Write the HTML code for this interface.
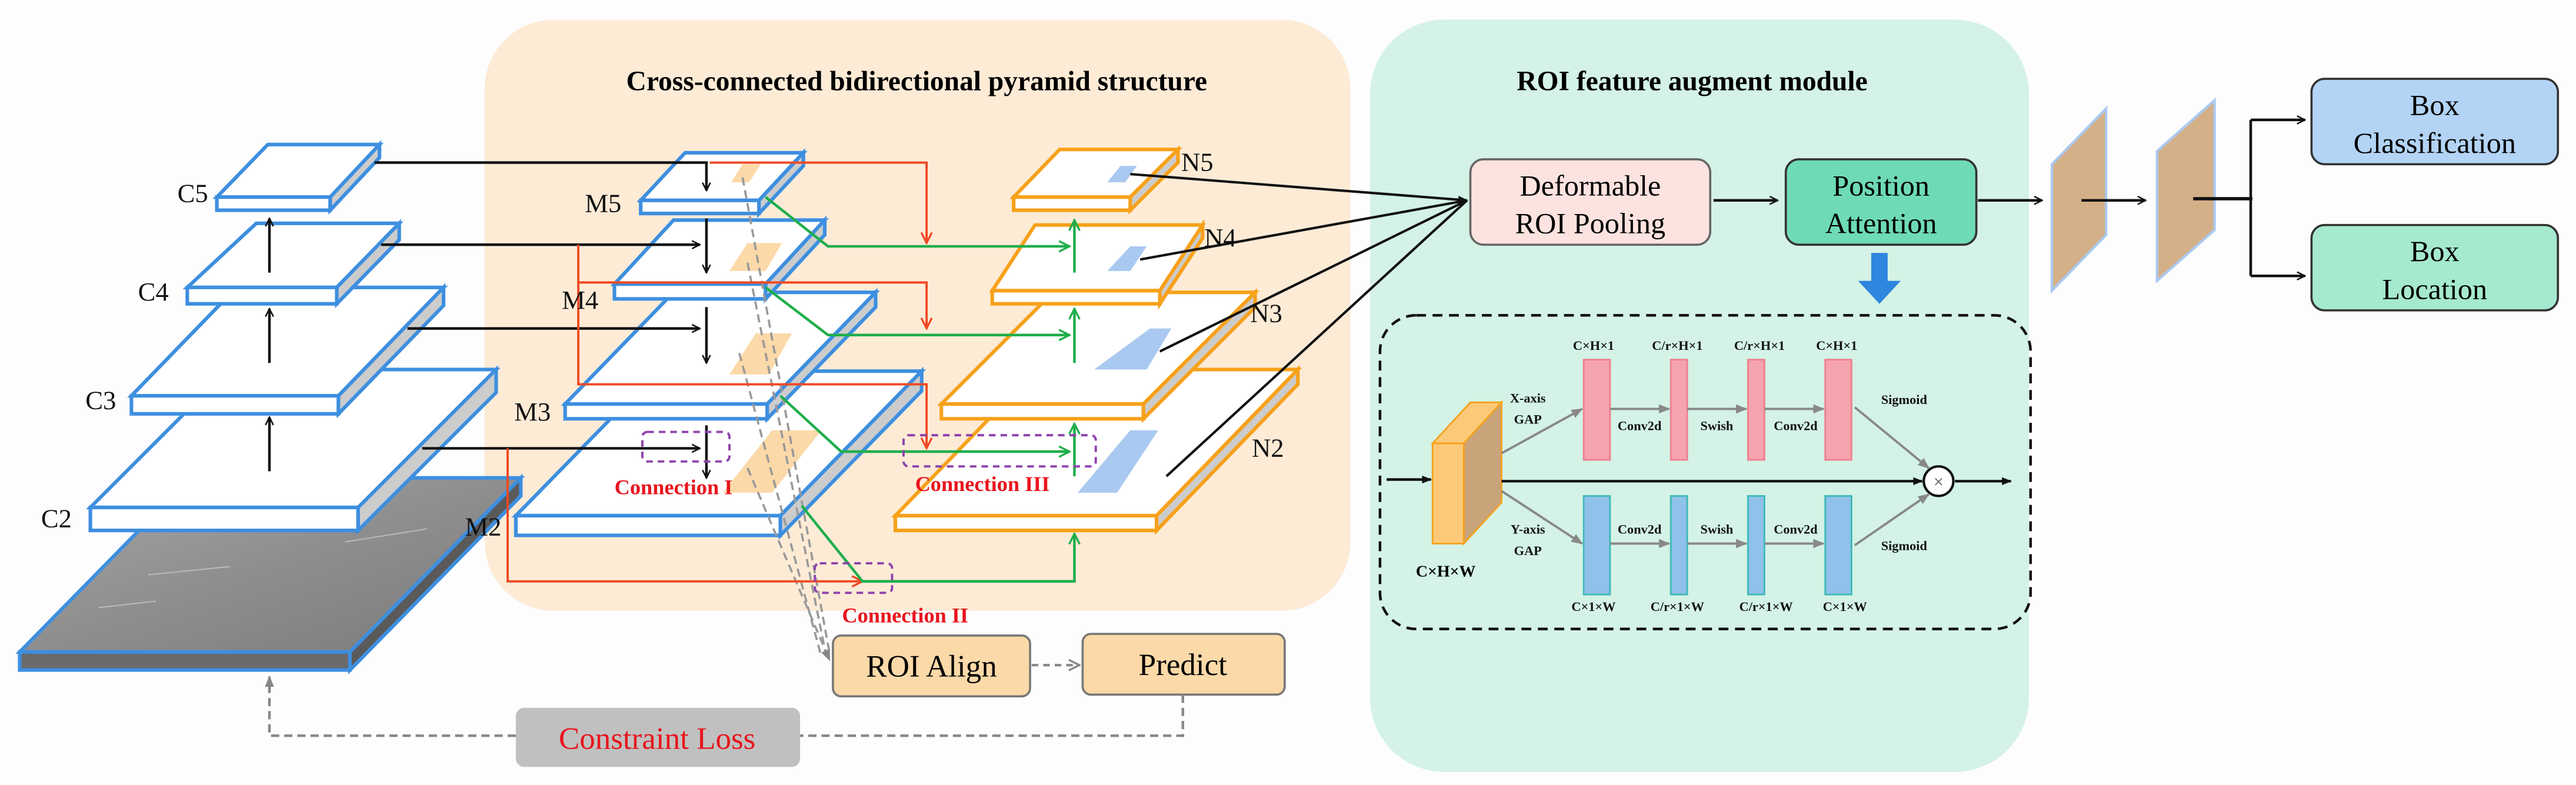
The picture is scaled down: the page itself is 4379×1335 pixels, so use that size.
<!DOCTYPE html>
<html><head><meta charset="utf-8"><style>
html,body{margin:0;padding:0;background:#fdfdfd;}
svg{display:block;}
svg text{font-family:"Liberation Serif","DejaVu Serif",serif;}
</style></head><body>
<svg width="4379" height="1335" viewBox="0 0 1568 478" xmlns="http://www.w3.org/2000/svg" font-family="Liberation Serif, serif">
<defs>
<marker id="ab" viewBox="0 0 10 10" refX="9" refY="5" markerWidth="6" markerHeight="6" orient="auto-start-reverse" markerUnits="userSpaceOnUse"><path d="M1,1 L9,5 L1,9" fill="none" stroke="#111" stroke-width="1.5"/></marker>
<marker id="ar" viewBox="0 0 10 10" refX="9" refY="5" markerWidth="8" markerHeight="8" orient="auto" markerUnits="userSpaceOnUse"><path d="M1,1 L9,5 L1,9" fill="none" stroke="#f04a24" stroke-width="1.5"/></marker>
<marker id="ag" viewBox="0 0 10 10" refX="9" refY="5" markerWidth="8" markerHeight="8" orient="auto" markerUnits="userSpaceOnUse"><path d="M1,1 L9,5 L1,9" fill="none" stroke="#1fae4b" stroke-width="1.5"/></marker>
<marker id="agr" viewBox="0 0 10 10" refX="9" refY="5" markerWidth="7" markerHeight="7" orient="auto" markerUnits="userSpaceOnUse"><path d="M0,1 L10,5 L0,9 z" fill="#888"/></marker>
<marker id="agd" viewBox="0 0 10 10" refX="9" refY="5" markerWidth="8" markerHeight="8" orient="auto" markerUnits="userSpaceOnUse"><path d="M1,1 L9,5 L1,9" fill="none" stroke="#888" stroke-width="1.5"/></marker>
<marker id="abf" viewBox="0 0 10 10" refX="9" refY="5" markerWidth="6" markerHeight="6" orient="auto" markerUnits="userSpaceOnUse"><path d="M0,1 L10,5 L0,9 z" fill="#111"/></marker>
<linearGradient id="tex" x1="0" y1="0" x2="1" y2="1"><stop offset="0" stop-color="#a8a8a8"/><stop offset="0.5" stop-color="#8e8e8e"/><stop offset="1" stop-color="#7a7a7a"/></linearGradient>
</defs>
<rect width="1568" height="478" fill="#fdfdfd"/>
<rect x="295" y="12" width="527" height="360" rx="42" fill="#fdebd6"/>
<rect x="834" y="12" width="401" height="458" rx="45" fill="#d4f2e6"/>
<text x="558" y="55" font-size="17" font-weight="bold" text-anchor="middle">Cross-connected bidirectional pyramid structure</text>
<text x="1030" y="55" font-size="17" font-weight="bold" text-anchor="middle">ROI feature augment module</text>

<g stroke-width="2.2" stroke-linejoin="miter">
<polygon points="116,291 317,291 213,397 12,397" fill="url(#tex)" stroke="#3d8fe0"/>
<g stroke="#c8c8c8" stroke-width="0.8" fill="none" opacity="0.7">
<path d="M140,320 L200,312"/><path d="M60,370 L95,366"/><path d="M160,300 L220,296"/><path d="M90,350 L140,345"/><path d="M210,330 L260,322"/>
</g>
<rect x="12" y="397" width="201" height="11" fill="#6a6a6a" stroke="#3d8fe0"/>
<polygon points="213,397 317,291 317,302 213,408" fill="#5a5a5a" stroke="#3d8fe0"/>
<g stroke="#3d8fe0" fill="#fff">
<polygon points="139,225 302,225 218,309 55,309"/><rect x="55" y="309" width="163" height="14"/><polygon points="218,309 302,225 302,239 218,323" fill="#ccc"/>
<polygon points="144,175 270,175 206,241 80,241"/><rect x="80" y="241" width="126" height="11"/><polygon points="206,241 270,175 270,186 206,252" fill="#ccc"/>
<polygon points="156,136 243,136 205,175 114,175"/><rect x="114" y="175" width="91" height="10"/><polygon points="205,175 243,136 243,146 205,185" fill="#ccc"/>
<polygon points="163,88 231,88 201,120 132,120"/><rect x="132" y="120" width="69" height="8"/><polygon points="201,120 231,88 231,96 201,128" fill="#ccc"/>
</g>
<g stroke="#3d8fe0" fill="#fff">
<polygon points="400,226 561,226 475,314 314,314"/><rect x="314" y="314" width="161" height="12"/><polygon points="475,314 561,226 561,238 475,326" fill="#ccc"/>
<polygon points="410,178 533,178 467,246 344,246"/><rect x="344" y="246" width="123" height="9"/><polygon points="467,246 533,178 533,187 467,255" fill="#ccc"/>
<polygon points="410,134 502,134 466,173 374,173"/><rect x="374" y="173" width="92" height="9"/><polygon points="466,173 502,134 502,143 466,182" fill="#ccc"/>
<polygon points="417,93 489,93 462,122 390,122"/><rect x="390" y="122" width="72" height="8"/><polygon points="462,122 489,93 489,101 462,130" fill="#ccc"/>
</g>
<g stroke="#f7a11a" fill="#fff">
<polygon points="631,225 790,225 704,314 545,314"/><rect x="545" y="314" width="159" height="9"/><polygon points="704,314 790,225 790,234 704,323" fill="#ccc"/>
<polygon points="641,178 764,178 696,246 573,246"/><rect x="573" y="246" width="123" height="9"/><polygon points="696,246 764,178 764,187 696,255" fill="#ccc"/>
<polygon points="630,137 732,137 706,177 604,177"/><rect x="604" y="177" width="102" height="8"/><polygon points="706,177 732,137 732,145 706,185" fill="#ccc"/>
<polygon points="645,91 717,91 688,120 617,120"/><rect x="617" y="120" width="71" height="8"/><polygon points="688,120 717,91 717,99 688,128" fill="#ccc"/>
</g>
</g>
<g fill="#fcd9a8">
<polygon points="452,100 463,100 456,111 445,111"/>
<polygon points="455,148 476,148 466,165 444,165"/>
<polygon points="460,203 482,203 468,228 444,228"/>
<polygon points="470,262 500,262 470,300 440,300"/>
</g>
<g fill="#a9c9f0">
<polygon points="682,101 692,101 685,111 674,111"/>
<polygon points="688,150 698,150 688,165 674,165"/>
<polygon points="700,200 713,200 698,225 666,225"/>
<polygon points="688,262 705,262 680,300 656,300"/>
</g>
<g stroke="#999" stroke-width="1.3" stroke-dasharray="5,3" fill="none">
<line x1="452" y1="108" x2="505" y2="398"/>
<line x1="455" y1="160" x2="503" y2="400"/>
<line x1="450" y1="215" x2="500" y2="400"/>
<line x1="455" y1="285" x2="505" y2="402" marker-end="url(#agr)"/>
</g>
<g stroke="#111" stroke-width="1.6" fill="none" marker-end="url(#ab)">
<polyline points="228,99 430,99 430,116"/>
<line x1="232" y1="149" x2="426" y2="149"/>
<line x1="248" y1="200" x2="426" y2="200"/>
<line x1="257" y1="273" x2="426" y2="273"/>
<line x1="430" y1="133" x2="430" y2="166"/>
<line x1="430" y1="187" x2="430" y2="221"/>
<line x1="430" y1="259" x2="430" y2="291"/>
<line x1="164" y1="166" x2="164" y2="133"/>
<line x1="164" y1="221" x2="164" y2="188"/>
<line x1="164" y1="287" x2="164" y2="254"/>
</g>
<g stroke="#f04a24" stroke-width="1.4" fill="none" marker-end="url(#ar)">
<polyline points="432,99 564,99 564,148"/>
<polyline points="352,149 352,172 564,172 564,200"/>
<polyline points="352,172 352,234 564,234 564,273"/>
<polyline points="309,273 309,354 525,354"/>
</g>
<g stroke="#1fae4b" stroke-width="1.6" fill="none" marker-end="url(#ag)">
<polyline points="466,120 504,150 651,150"/>
<polyline points="466,175 504,204 651,204"/>
<polyline points="475,241 512,275 651,275"/>
<polyline points="488,308 525,354 654,354 654,325"/>
<line x1="654" y1="166" x2="654" y2="134"/>
<line x1="654" y1="221" x2="654" y2="188"/>
<line x1="654" y1="290" x2="654" y2="258"/>
</g>
<g stroke="#8e44ad" stroke-width="1.4" stroke-dasharray="4,3" fill="none">
<rect x="391" y="263" width="53" height="18" rx="3"/>
<rect x="550" y="265" width="117" height="19" rx="3"/>
<rect x="496" y="343" width="47" height="18" rx="3"/>
</g>
<g fill="#e8141c" font-size="13" font-weight="bold" text-anchor="middle">
<text x="410" y="301">Connection I</text>
<text x="598" y="299">Connection III</text>
<text x="551" y="379">Connection II</text>
</g>
<g font-size="16" fill="#111">
<text x="108" y="123">C5</text><text x="84" y="183">C4</text><text x="52" y="249">C3</text><text x="25" y="321">C2</text>
<text x="356" y="129">M5</text><text x="342" y="188">M4</text><text x="313" y="256">M3</text><text x="283" y="326">M2</text>
<text x="719" y="104">N5</text><text x="733" y="150">N4</text><text x="761" y="196">N3</text><text x="762" y="278">N2</text>
</g>
<g stroke="#111" stroke-width="1.5" fill="none">
<line x1="688" y1="106" x2="893" y2="122" marker-end="url(#abf)"/>
<line x1="694" y1="158" x2="893" y2="122"/>
<line x1="706" y1="214" x2="893" y2="122"/>
<line x1="710" y1="290" x2="893" y2="122"/>
</g>
<rect x="507" y="387" width="120" height="37" rx="5" fill="#fbd9a8" stroke="#777" stroke-width="1.3"/>
<text x="567" y="412" font-size="19" text-anchor="middle">ROI Align</text>
<rect x="659" y="386" width="123" height="37" rx="5" fill="#fbd9a8" stroke="#777" stroke-width="1.3"/>
<text x="720" y="411" font-size="19" text-anchor="middle">Predict</text>
<line x1="628" y1="405" x2="657" y2="405" stroke="#888" stroke-width="1.5" stroke-dasharray="4,3" marker-end="url(#agd)"/>
<rect x="314" y="431" width="173" height="36" rx="5" fill="#c0c0c0"/>
<text x="400" y="456" font-size="19" fill="#e8141c" text-anchor="middle">Constraint Loss</text>
<g stroke="#888" stroke-width="1.6" stroke-dasharray="5,3" fill="none">
<polyline points="720,423 720,448 487,448"/>
<polyline points="314,448 164,448 164,412" marker-end="url(#agr)"/>
</g>
<rect x="895" y="97" width="146" height="52" rx="8" fill="#fde3e0" stroke="#666" stroke-width="1.3"/>
<text x="968" y="119" font-size="18" text-anchor="middle">Deformable</text>
<text x="968" y="142" font-size="18" text-anchor="middle">ROI Pooling</text>
<rect x="1087" y="97" width="116" height="52" rx="8" fill="#6edbb6" stroke="#333" stroke-width="1.3"/>
<text x="1145" y="119" font-size="18" text-anchor="middle">Position</text>
<text x="1145" y="142" font-size="18" text-anchor="middle">Attention</text>
<g stroke="#111" stroke-width="1.6" fill="none" marker-end="url(#ab)">
<line x1="1043" y1="122" x2="1082" y2="122"/>
<line x1="1204" y1="122" x2="1243" y2="122"/>
<polyline points="1370,73 1403,73"/>
<polyline points="1370,168 1403,168"/>
</g>
<line x1="1370" y1="73" x2="1370" y2="168" stroke="#111" stroke-width="1.6"/>
<polygon points="1249,100 1282,66 1282,143 1249,177" fill="#d4b088" stroke="#a9c9f0" stroke-width="1.5"/>
<polygon points="1313,92 1348,61 1348,140 1313,171" fill="#d4b088" stroke="#a9c9f0" stroke-width="1.5"/>
<line x1="1267" y1="122" x2="1306" y2="122" stroke="#111" stroke-width="1.6" marker-end="url(#ab)"/>
<line x1="1335" y1="121" x2="1371" y2="121" stroke="#111" stroke-width="2"/>
<rect x="1407" y="48" width="150" height="52" rx="8" fill="#b3d4f5" stroke="#333" stroke-width="1.3"/>
<text x="1482" y="70" font-size="18" text-anchor="middle">Box</text>
<text x="1482" y="93" font-size="18" text-anchor="middle">Classification</text>
<rect x="1407" y="137" width="150" height="52" rx="8" fill="#a5e9cf" stroke="#333" stroke-width="1.3"/>
<text x="1482" y="159" font-size="18" text-anchor="middle">Box</text>
<text x="1482" y="182" font-size="18" text-anchor="middle">Location</text>
<polygon points="1139,154 1149,154 1149,171 1157,171 1144,185 1131,171 1139,171" fill="#2e86de"/>
<rect x="840" y="192" width="396" height="191" rx="22" fill="none" stroke="#111" stroke-width="1.6" stroke-dasharray="6,4"/>
<polygon points="872,270 895,245 914,245 891,270" fill="#fcc978" stroke="#f5a21b" stroke-width="1"/>
<polygon points="891,270 914,245 914,306 891,331" fill="#c9a37a" stroke="#f5a21b" stroke-width="1"/>
<rect x="872" y="270" width="19" height="61" fill="#fcc978" stroke="#f5a21b" stroke-width="1"/>
<text x="880" y="351" font-size="10" font-weight="bold" text-anchor="middle">C×H×W</text>
<g stroke="#111" stroke-width="1.6" fill="none" marker-end="url(#abf)">
<line x1="844" y1="292" x2="871" y2="292"/>
<line x1="914" y1="293" x2="1170" y2="293"/>
<line x1="1190" y1="293" x2="1224" y2="293"/>
</g>
<circle cx="1180" cy="293" r="9" fill="#fff" stroke="#111" stroke-width="1.5"/>
<text x="1180" y="297" font-size="11" fill="#555" text-anchor="middle">×</text>
<g fill="#f5a3af" stroke="#ee7e8e" stroke-width="1">
<rect x="964" y="219" width="16" height="61"/><rect x="1017" y="219" width="10" height="61"/><rect x="1064" y="219" width="10" height="61"/><rect x="1111" y="219" width="16" height="61"/>
</g>
<g fill="#8fc1ea" stroke="#3bb9b6" stroke-width="1">
<rect x="964" y="302" width="16" height="60"/><rect x="1017" y="302" width="10" height="60"/><rect x="1064" y="302" width="10" height="60"/><rect x="1111" y="302" width="16" height="60"/>
</g>
<g stroke="#888" stroke-width="1.4" fill="none" marker-end="url(#agr)">
<line x1="914" y1="276" x2="963" y2="249"/>
<line x1="914" y1="299" x2="963" y2="331"/>
<line x1="980" y1="249" x2="1016" y2="249"/><line x1="1027" y1="249" x2="1063" y2="249"/><line x1="1074" y1="249" x2="1110" y2="249"/>
<line x1="980" y1="331" x2="1016" y2="331"/><line x1="1027" y1="331" x2="1063" y2="331"/><line x1="1074" y1="331" x2="1110" y2="331"/>
<line x1="1129" y1="248" x2="1174" y2="285"/>
<line x1="1129" y1="332" x2="1174" y2="301"/>
</g>
<g font-size="8" font-weight="bold" text-anchor="middle" fill="#111">
<text x="970" y="213">C×H×1</text><text x="1021" y="213">C/r×H×1</text><text x="1071" y="213">C/r×H×1</text><text x="1118" y="213">C×H×1</text>
<text x="970" y="372">C×1×W</text><text x="1021" y="372">C/r×1×W</text><text x="1075" y="372">C/r×1×W</text><text x="1123" y="372">C×1×W</text>
<text x="930" y="245">X-axis</text><text x="930" y="258">GAP</text>
<text x="930" y="325">Y-axis</text><text x="930" y="338">GAP</text>
<text x="998" y="262">Conv2d</text><text x="1045" y="262">Swish</text><text x="1093" y="262">Conv2d</text>
<text x="998" y="325">Conv2d</text><text x="1045" y="325">Swish</text><text x="1093" y="325">Conv2d</text>
<text x="1159" y="246">Sigmoid</text><text x="1159" y="335">Sigmoid</text>
</g>
</svg>
</body></html>
